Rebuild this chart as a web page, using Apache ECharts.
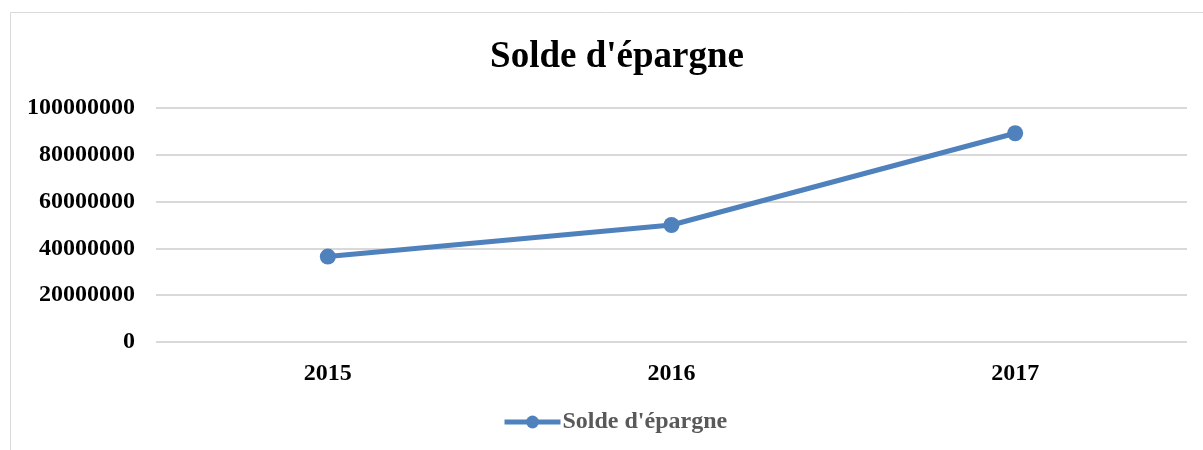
<!DOCTYPE html>
<html>
<head>
<meta charset="utf-8">
<script src="https://cdn.jsdelivr.net/npm/echarts@6/dist/echarts.min.js"></script>
<style>
  html, body { margin: 0; padding: 0; background: #fff; }
  #main { width: 1203px; height: 450px; }
</style>
</head>
<body>
<div id="main"></div>
<script>
// données du graphique
var years = ['2015', '2016', '2017'];
var soldeEpargne = [36500000, 50000000, 89200000];
var yTicks = [0, 20000000, 40000000, 60000000, 80000000, 100000000];

var chart = echarts.init(document.getElementById('main'));
var serif = '"Liberation Serif", "Times New Roman", serif';

chart.setOption({
    animation: false,
    color: ['#4F81BD'],
    graphic: [{
        type: 'rect',
        shape: { x: 10.5, y: 12.5, width: 1300, height: 500 },
        style: { fill: 'none', stroke: '#d9d9d9', lineWidth: 1 },
        silent: true
    }],
    title: {
        text: "Solde d'épargne",
        left: 612,
        top: 34,
        textAlign: 'center',
        textStyle: {
            fontFamily: serif,
            fontWeight: 'bold',
            fontSize: 37,
            color: '#000'
        }
    },
    legend: {
        data: ["Solde d'épargne"],
        bottom: 11,
        left: 497,
        itemWidth: 56,
        itemHeight: 16,
        itemGap: 2,
        lineStyle: { width: 5 },
        textStyle: {
            fontFamily: serif,
            fontWeight: 'bold',
            fontSize: 24,
            color: '#595959',
            padding: [0, 0, 0, -3]
        }
    },
    grid: {
        left: 156,
        right: 16,
        top: 108,
        bottom: 108
    },
    xAxis: {
        type: 'category',
        data: years,
        axisLine: { show: false },
        axisTick: { show: false },
        axisLabel: {
            margin: 20,
            fontFamily: serif,
            fontWeight: 'bold',
            fontSize: 24,
            color: '#000'
        }
    },
    yAxis: {
        type: 'value',
        min: yTicks[0],
        max: yTicks[yTicks.length - 1],
        interval: yTicks[1] - yTicks[0],
        axisLine: { show: false },
        axisTick: { show: false },
        splitLine: { lineStyle: { color: '#d9d9d9', width: 2 } },
        axisLabel: {
            margin: 21,
            fontFamily: serif,
            fontWeight: 'bold',
            fontSize: 24,
            color: '#000',
            formatter: function (v) { return String(v); }
        }
    },
    series: [{
        name: "Solde d'épargne",
        type: 'line',
        data: soldeEpargne,
        symbol: 'circle',
        symbolSize: 16,
        lineStyle: { width: 5 },
        itemStyle: { color: '#4F81BD' }
    }]
});
</script>
</body>
</html>
